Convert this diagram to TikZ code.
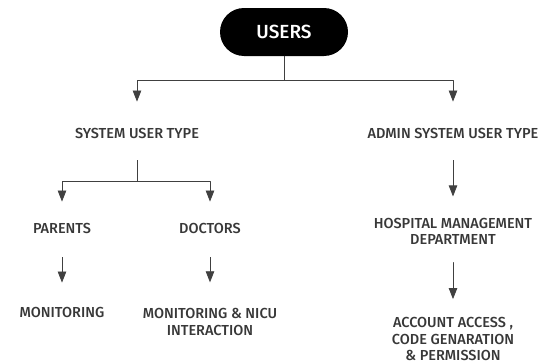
\documentclass[tikz,border=0pt]{standalone}
\usepackage{fontspec}
\setmainfont{Fira Sans}[UprightFont={* Medium}]
\usetikzlibrary{arrows.meta}

\begin{document}
\begin{tikzpicture}[x=1pt, y=-1pt, line cap = round, line join = round, >={Triangle[length=11pt,width=8.5pt]}]
\tikzstyle{pill}=[fill=black, text=white, rounded corners=24pt, minimum width=128pt, minimum height=48pt, font=\fontsize{19}{21}\selectfont]
\tikzstyle{label}=[text=black!78, align=center, inner sep=0pt, font=\fontsize{14.5}{16.5}\selectfont]
\tikzstyle{link}=[draw=black!75, line width=0.8pt]
\useasboundingbox (0,0) rectangle (547,364);

\node[pill] (users) at (284,32) {USERS};
\node[label] (sys) at (137,133) {SYSTEM USER TYPE};
\node[label] (admin) at (453,133) {ADMIN SYSTEM USER TYPE};
\node[label] (parents) at (62,228) {PARENTS};
\node[label] (doctors) at (210,228) {DOCTORS};
\node[label] (mon) at (62,312) {MONITORING};
\node[label] (nicu) at (210,322) {MONITORING \& NICU\\INTERACTION};
\node[label] (hosp) at (453,231.5) {HOSPITAL MANAGEMENT\\DEPARTMENT};
\node[label] (acc) at (453,339) {ACCOUNT ACCESS ,\\CODE GENARATION\\\& PERMISSION};

\coordinate (top) at (284,80);
\coordinate (sysjoin) at (137,181);

% users split into the two user types
\draw[link] (users) -- (top);
\draw[link,->,shorten >=26pt] (top) -| (sys.north);
\draw[link,->,shorten >=26pt] (top) -| (admin.north);

% system users
\draw[link,shorten <=22pt] (sys.south) -- (sysjoin);
\draw[link,->,shorten >=21pt] (sysjoin) -| (parents.north);
\draw[link,->,shorten >=21pt] (sysjoin) -| (doctors.north);
\draw[link,->,shorten <=24pt,shorten >=24pt] (parents) -- (mon);
\draw[link,->,shorten <=24pt,shorten >=26pt] (doctors) -- (nicu);

% admin users
\draw[link,->,shorten <=22pt,shorten >=21.5pt] (admin) -- (hosp);
\draw[link,->,shorten <=17.5pt,shorten >=18pt] (hosp) -- (acc);
\end{tikzpicture}
\end{document}
